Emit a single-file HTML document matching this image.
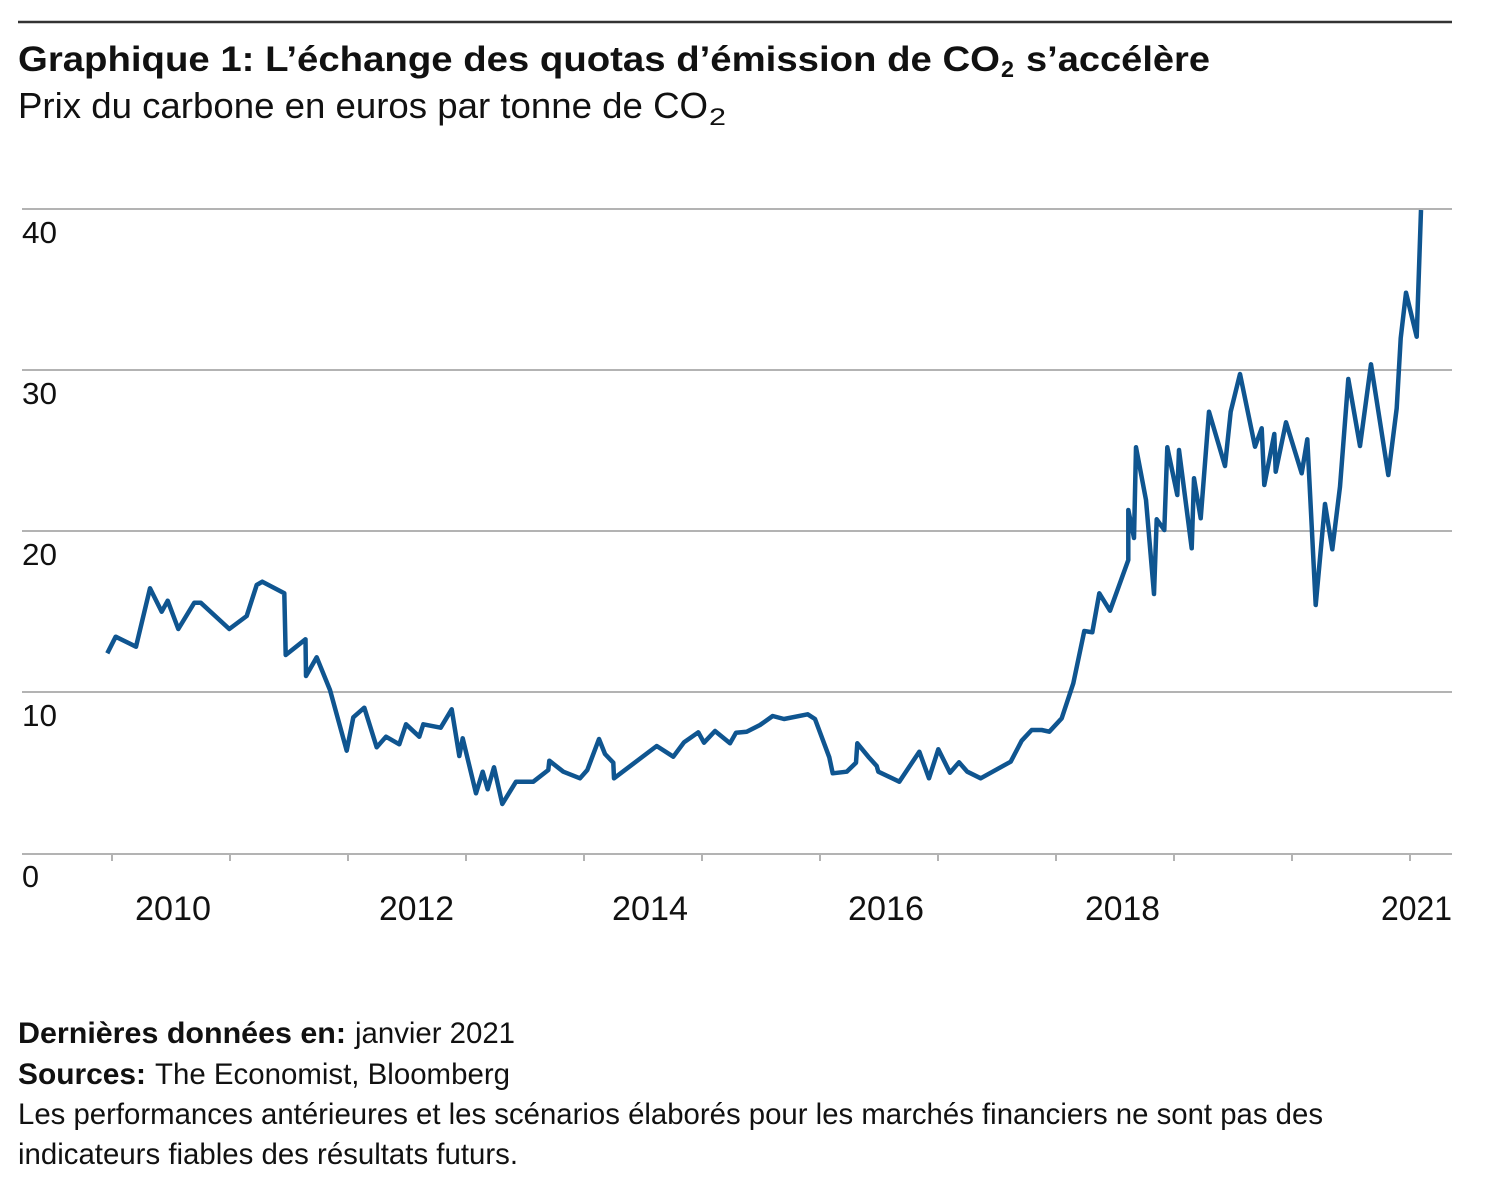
<!DOCTYPE html>
<html>
<head>
<meta charset="utf-8">
<style>
  html, body { margin: 0; padding: 0; background: #ffffff; }
  body { width: 1495px; height: 1200px; overflow: hidden; }
  svg { display: block; }
  text { font-family: "Liberation Sans", Arial, sans-serif; fill: #111; }
  .b { font-weight: bold; }
</style>
</head>
<body>
<svg width="1495" height="1200" viewBox="0 0 1495 1200" xmlns="http://www.w3.org/2000/svg">
  <!-- top rule -->
  <line x1="18" y1="22" x2="1452" y2="22" stroke="#333" stroke-width="2.5"/>

  <!-- title -->
  <text class="b" x="18" y="71" font-size="35" textLength="982" lengthAdjust="spacingAndGlyphs">Graphique 1: L’échange des quotas d’émission de CO</text>
  <text class="b" x="1001" y="77" font-size="23" textLength="13" lengthAdjust="spacingAndGlyphs">2</text>
  <text class="b" x="1026" y="71" font-size="35" textLength="184" lengthAdjust="spacingAndGlyphs">s’accélère</text>

  <!-- subtitle -->
  <text x="18" y="118" font-size="36" textLength="690" lengthAdjust="spacingAndGlyphs">Prix du carbone en euros par tonne de CO</text>
  <text x="709" y="125" font-size="24" textLength="17" lengthAdjust="spacingAndGlyphs">2</text>

  <!-- gridlines -->
  <g stroke="#b3b3b3" stroke-width="2">
    <line x1="22" y1="209" x2="1452" y2="209"/>
    <line x1="22" y1="370" x2="1452" y2="370"/>
    <line x1="22" y1="531" x2="1452" y2="531"/>
    <line x1="22" y1="692" x2="1452" y2="692"/>
    <line x1="22" y1="854" x2="1452" y2="854"/>
  </g>
  <!-- ticks -->
  <g stroke="#b3b3b3" stroke-width="2">
    <line x1="112" y1="854" x2="112" y2="861"/>
    <line x1="230" y1="854" x2="230" y2="861"/>
    <line x1="348" y1="854" x2="348" y2="861"/>
    <line x1="466" y1="854" x2="466" y2="861"/>
    <line x1="584" y1="854" x2="584" y2="861"/>
    <line x1="702" y1="854" x2="702" y2="861"/>
    <line x1="820" y1="854" x2="820" y2="861"/>
    <line x1="938" y1="854" x2="938" y2="861"/>
    <line x1="1056" y1="854" x2="1056" y2="861"/>
    <line x1="1174" y1="854" x2="1174" y2="861"/>
    <line x1="1292" y1="854" x2="1292" y2="861"/>
    <line x1="1410" y1="854" x2="1410" y2="861"/>
  </g>

  <!-- y labels -->
  <g font-size="31">
    <text x="22" y="243" textLength="35" lengthAdjust="spacingAndGlyphs">40</text>
    <text x="22" y="404" textLength="35" lengthAdjust="spacingAndGlyphs">30</text>
    <text x="22" y="565" textLength="35" lengthAdjust="spacingAndGlyphs">20</text>
    <text x="22" y="726" textLength="35" lengthAdjust="spacingAndGlyphs">10</text>
    <text x="22" y="887" textLength="17" lengthAdjust="spacingAndGlyphs">0</text>
  </g>

  <!-- x labels -->
  <g font-size="34">
    <text x="135" y="920" textLength="76" lengthAdjust="spacingAndGlyphs">2010</text>
    <text x="379" y="920" textLength="75" lengthAdjust="spacingAndGlyphs">2012</text>
    <text x="612" y="920" textLength="76" lengthAdjust="spacingAndGlyphs">2014</text>
    <text x="848" y="920" textLength="76" lengthAdjust="spacingAndGlyphs">2016</text>
    <text x="1085" y="920" textLength="75" lengthAdjust="spacingAndGlyphs">2018</text>
    <text x="1381" y="920" textLength="71" lengthAdjust="spacingAndGlyphs">2021</text>
  </g>

  <!-- series -->
  <polyline fill="none" stroke="#0f5590" stroke-width="4.5" stroke-linejoin="round" stroke-linecap="butt"
    points="107.3,653.3 115.7,636.7 136,646.7 150,588.3 161.7,611.7 167.7,600.7 178.3,629 194.3,602.7 200.7,602.7 229.3,629 246.7,616 256.7,585 262.3,581.7 284.3,593.3 285.7,655 305.5,639.3 306,676 316.7,657.3 330,690 346.7,750.7 353.3,717.3 364.3,707.7 376.7,747.3 386,736.7 399.3,744.3 406,724.3 419.3,736.7 423.3,724.3 440.7,727.7 451.7,709.3 459.3,756 462.7,738.3 476,793.3 482.7,771.7 487.7,789.3 494,767.3 502.3,804 516,781.7 533.3,781.7 548.3,770 549.3,760.7 563.3,771.7 580,778.3 587.3,770 599,739 605,754 613.3,762.7 614,778.3 656.7,746 673.3,756.7 684,742.3 698.3,732.3 704,742.7 715,731 730,743.3 736,732.7 746.7,731.7 760,725 772.7,716 784,719 807.7,714.3 815,719 829.3,757.3 832.7,773.3 846.7,771.7 856,762.7 857.3,743.3 868.3,756.7 876.7,766 878.3,771.7 899.3,781.7 919.3,751.7 929,778.3 938.3,749.3 950,772.7 959,762.3 967.3,771.7 980.7,778.3 1010.7,761.7 1021.7,740.7 1031.7,730 1041.7,730 1049.3,731.7 1061.7,718.3 1073.3,683.3 1084.3,631 1092.3,632.3 1099.3,593.3 1110,610.7 1128.3,560 1128.3,510 1134,538 1136,447.3 1146,500 1154,594 1156.7,519.3 1164.3,530 1167.3,447.3 1177.3,495 1179,450 1191.7,548.3 1194,478.3 1200.7,518.3 1209,411.7 1225,466 1230.7,411.7 1240,374 1255,446.7 1261.7,428.3 1264.3,485 1274.3,434 1275.7,471.7 1286,422.3 1301.7,473.3 1307.3,439.3 1315.7,605 1325,504 1332.3,549.3 1340,486.7 1348.3,379 1360,446 1371,364.3 1388.3,475 1396.7,408.3 1400.7,338.3 1406,292.7 1416.7,336.7 1421,210"/>

  <!-- footer -->
  <text class="b" x="18" y="1043" font-size="30" textLength="328" lengthAdjust="spacingAndGlyphs">Dernières données en:</text>
  <text x="355" y="1043" font-size="30" textLength="160" lengthAdjust="spacingAndGlyphs">janvier 2021</text>
  <text class="b" x="18" y="1084" font-size="30" textLength="128" lengthAdjust="spacingAndGlyphs">Sources:</text>
  <text x="155" y="1084" font-size="30" textLength="355" lengthAdjust="spacingAndGlyphs">The Economist, Bloomberg</text>
  <text x="18" y="1124" font-size="30" textLength="1305" lengthAdjust="spacingAndGlyphs">Les performances antérieures et les scénarios élaborés pour les marchés financiers ne sont pas des</text>
  <text x="18" y="1164" font-size="30" textLength="500" lengthAdjust="spacingAndGlyphs">indicateurs fiables des résultats futurs.</text>
</svg>
</body>
</html>
